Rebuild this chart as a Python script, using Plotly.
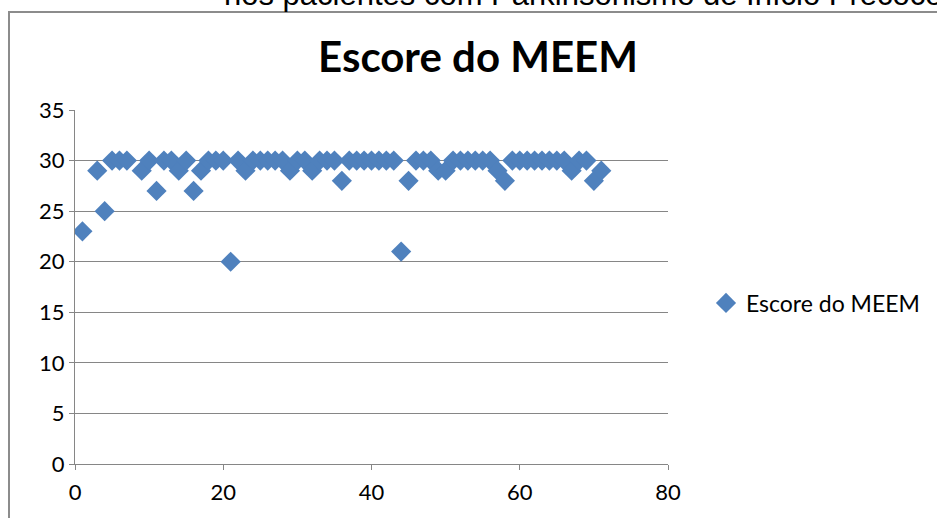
import plotly.graph_objects as go

# MEEM score per patient (patient number on the x axis)
patients = [1, 3, 4, 5, 6, 7, 9, 10, 11, 12, 13, 14, 15, 16, 17, 18, 19, 20,
            21, 22, 23, 24, 25, 26, 27, 28, 29, 30, 31, 32, 33, 34, 35, 36,
            37, 38, 39, 40, 41, 42, 43, 44, 45, 46, 47, 48, 49, 50, 51, 52,
            53, 54, 55, 56, 57, 58, 59, 60, 61, 62, 63, 64, 65, 66, 67, 68,
            69, 70, 71]
scores = [23, 29, 25, 30, 30, 30, 29, 30, 27, 30, 30, 29, 30, 27, 29, 30, 30, 30,
          20, 30, 29, 30, 30, 30, 30, 30, 29, 30, 30, 29, 30, 30, 30, 28,
          30, 30, 30, 30, 30, 30, 30, 21, 28, 30, 30, 30, 29, 29, 30, 30,
          30, 30, 30, 30, 29, 28, 30, 30, 30, 30, 30, 30, 30, 30, 29, 30,
          30, 28, 29]

x_ticks = [0, 20, 40, 60, 80]
y_ticks = [0, 5, 10, 15, 20, 25, 30, 35]

W, H = 937, 518
ML, MR, MT, MB = 75, 269, 110, 54
PW, PH = W - ML - MR, H - MT - MB


def px_x(px):
    return (px - ML) / PW


def px_y(py):
    return (H - MB - py) / PH


BLUE = "#4F81BD"
GRID = "#868686"
FONT = "Lato, Carlito, sans-serif"
TICK_FONT = dict(family=FONT, size=22, color="#000000")

fig = go.Figure()
fig.add_trace(go.Scatter(
    x=patients, y=scores, mode="markers", name="Escore do MEEM",
    marker=dict(symbol="diamond", size=15.5, color=BLUE,
                line=dict(width=0)),
))

fig.update_layout(
    width=W, height=H,
    margin=dict(l=ML, r=MR, t=MT, b=MB, pad=0),
    paper_bgcolor="white", plot_bgcolor="white",
    title=dict(text="<b>Escore do MEEM</b>", x=478 / W, xanchor="center",
               y=1 - 57 / H, yanchor="middle",
               font=dict(family=FONT, size=42, color="#000000")),
    showlegend=True,
    legend=dict(x=px_x(706), xanchor="left", y=px_y(303), yanchor="middle",
                font=dict(family=FONT, size=23, color="#000000"),
                bgcolor="rgba(0,0,0,0)", itemwidth=30),
    xaxis=dict(range=[0, 80], tickvals=x_ticks, showgrid=False,
               zeroline=False, showline=True, linecolor=GRID, linewidth=1,
               ticks="outside", ticklen=5, tickcolor=GRID,
               ticklabelstandoff=4,
               tickfont=TICK_FONT, fixedrange=True),
    yaxis=dict(range=[0, 35], tickvals=y_ticks, showgrid=True,
               gridcolor=GRID, gridwidth=1, zeroline=False,
               showline=True, linecolor=GRID, linewidth=1,
               ticks="outside", ticklen=5, tickcolor=GRID,
               tickfont=TICK_FONT, fixedrange=True),
)

# chart-area frame
fig.add_shape(type="rect", xref="paper", yref="paper",
              x0=px_x(9), x1=px_x(960), y0=px_y(540), y1=px_y(12),
              line=dict(color="#8c8c8c", width=2), fillcolor="rgba(0,0,0,0)",
              layer="below")

# caption line from the surrounding document
fig.add_annotation(text="nos pacientes com Parkinsonismo de Início Precoce",
                   xref="paper", yref="paper", x=px_x(222), xanchor="left",
                   y=px_y(14), yanchor="bottom", showarrow=False,
                   font=dict(family="Liberation Sans, Arial, sans-serif",
                             size=31, color="#000000"))

fig.write_html("out.html")
